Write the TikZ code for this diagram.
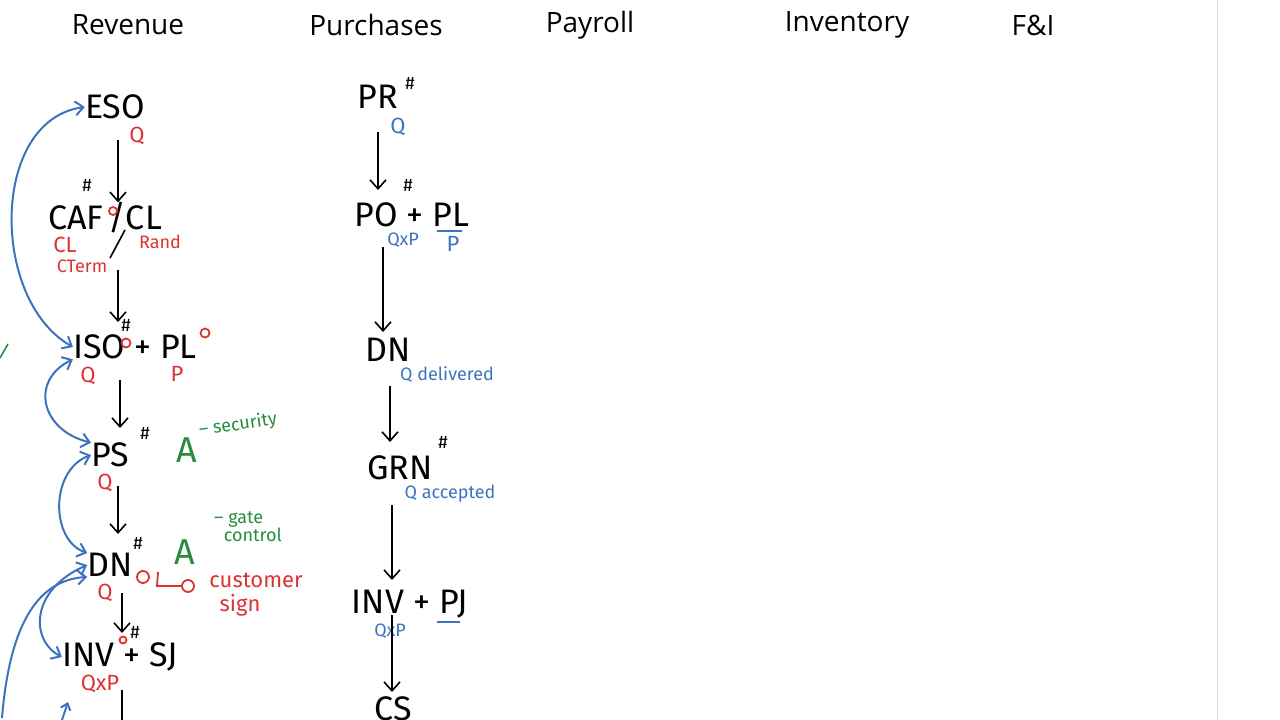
\documentclass[tikz,border=0pt]{standalone}
\usepackage{fontspec}
\setmainfont{Open Sans}
\newfontfamily\hand{Fira Sans}
\usetikzlibrary{arrows.meta}
\definecolor{hred}{RGB}{220,50,50}
\definecolor{hblue}{RGB}{60,115,190}
\definecolor{hgreen}{RGB}{40,140,60}
\begin{document}
\begin{tikzpicture}[x=1pt,y=-1pt,
 hd/.style={font=\fontsize{28}{28}\selectfont,text=black},
 bk/.style={font=\hand\fontsize{34}{34}\selectfont,inner sep=0},
 sm/.style={font=\hand\fontsize{22}{22}\selectfont,inner sep=0},
 tn/.style={font=\hand\fontsize{18}{18}\selectfont,inner sep=0},
 rd/.style={text=hred}, bl/.style={text=hblue}, gr/.style={text=hgreen},
 fl/.style={-{Straight Barb[length=9pt,width=16pt]},line width=1.6pt},
 cv/.style={{Straight Barb[length=8pt,width=14pt]}-{Straight Barb[length=8pt,width=14pt]},hblue,line width=2pt},
 ring/.style={circle,draw=hred,line width=1.8pt,minimum size=9pt,inner sep=0}]
\useasboundingbox (0,0) rectangle (1280,720);
\draw[black!15,line width=1pt] (1217,0) -- (1217,720);
% headers
\node[hd] (h1) at (128,25) {Revenue};
\node[hd] (h2) at (376,25) {Purchases};
\node[hd] (h3) at (590,25) {Payroll};
\node[hd] (h4) at (847,25) {Inventory};
\node[hd] (h5) at (1033,25) {F\&I};
% Revenue column
\node[bk] (eso) at (115,107) {ESO};
\node[sm,rd] (esoq) at (137,136) {Q};
\node[bk] (caf) at (105,218) {CAF\,/CL};
\node[tn] (cafh) at (87,185) {\#};
\node[ring,minimum size=8pt] (cafo) at (113,211) {};
\node[sm,rd] (cafcl) at (65,245) {CL};
\node[tn,rd] (cafct) at (82,266) {CTerm};
\node[tn,rd] (cafr) at (160,242) {Rand};
\coordinate (sl1) at (125,230); \coordinate (sl2) at (110,258);
\draw[line width=1.6pt] (sl1) -- (sl2);
\node[bk] (iso) at (135,347) {ISO + PL};
\node[tn] (isoh) at (126,325) {\#};
\node[ring] (isoo) at (126,343) {};
\node[ring] (plo) at (205,333) {};
\node[sm,rd] (isoq) at (88,376) {Q};
\node[sm,rd] (isop) at (177,374) {P};
\node[bk] (ps) at (110,455) {PS};
\node[tn] (psh) at (145,433) {\#};
\node[sm,rd] (psq) at (105,483) {Q};
\node[font=\hand\fontsize{36}{36}\selectfont,gr] (a1) at (187,450) {A};
\node[tn,gr,rotate=8] (a1t) at (238,425) {– security};
\node[bk] (dn) at (110,565) {DN};
\node[tn] (dnh) at (138,543) {\#};
\node[sm,rd] (dnq) at (105,593) {Q};
\node[ring,minimum size=12pt] (dno1) at (143,577) {};
\node[ring,minimum size=12pt] (dno2) at (188,586) {};
\draw[hred,line width=1.8pt] (158,572) -- (157,586) -- (dno2.west);
\node[sm,rd] (cust) at (256,580) {customer};
\node[sm,rd] (sign) at (240,605) {sign};
\node[font=\hand\fontsize{36}{36}\selectfont,gr] (a2) at (185,552) {A};
\node[tn,gr,align=left] (a2t) at (248,527) {– gate\\\ \ control};
\node[bk] (inv) at (120,657) {INV + SJ};
\node[tn] (invh) at (135,632) {\#};
\node[ring,minimum size=7pt] (invo) at (123,640) {};
\node[sm,rd] (invq) at (100,684) {QxP};
\coordinate (rend) at (122,722);
\draw[fl] (118,140) -- (caf.north-|118,0);
\draw[fl] (118,270) -- (118,322);
\draw[fl] (120,380) -- (120,428);
\draw[fl] (118,486) -- (118,534);
\draw[fl] (122,593) -- (122,633);
\draw[line width=1.6pt] (122,690) -- (rend);
% blue connectors
\draw[cv] (iso.west) .. controls (-10,300) and (-10,120) .. (eso.west);
\draw[cv] (ps.north west) .. controls (40,430) and (30,380) .. (iso.south west);
\draw[cv] (dn.north west) .. controls (50,540) and (50,470) .. (ps.west);
\draw[cv] (inv.west) .. controls (30,640) and (30,590) .. (dn.west);
\coordinate (bl1) at (2,718);
\draw[hblue,line width=2pt,-{Straight Barb[length=8pt,width=14pt]}] (bl1) .. controls (10,620) and (40,580) .. (dn.south west);
\coordinate (bl2) at (62,720);
\draw[hblue,line width=2pt,-{Straight Barb[length=6pt,width=10pt]}] (bl2) -- (68,702);
\coordinate (gt1) at (0,358); \coordinate (gt2) at (8,344);
\draw[hgreen,line width=1.6pt] (gt1) -- (gt2);
% Purchases column
\node[bk] (pr) at (378,97) {PR};
\node[tn] (prh) at (410,83) {\#};
\node[sm,bl] (prq) at (398,127) {Q};
\node[bk] (po) at (412,215) {PO + PL};
\node[tn] (poh) at (408,185) {\#};
\node[tn,bl] (poq) at (403,240) {QxP};
\node[sm,bl] (pop) at (453,244) {P};
\draw[hblue,line width=1.5pt] (437,231) -- (462,231);
\node[bk] (dnp) at (388,350) {DN};
\node[tn,bl] (dnq2) at (447,374) {Q delivered};
\node[bk] (grn) at (400,468) {GRN};
\node[tn] (grnh) at (443,442) {\#};
\node[tn,bl] (grnq) at (450,494) {Q accepted};
\node[bk] (invp) at (410,604) {INV + PJ};
\draw[hblue,line width=1.5pt] (437,622) -- (460,622);
\node[tn,bl] (invpq) at (390,631) {QxP};
\node[bk,anchor=north] (cs) at (393,696) {CS};
\draw[fl] (378,132) -- (378,190);
\draw[fl] (383,247) -- (383,332);
\draw[fl] (390,386) -- (390,442);
\draw[fl] (392,505) -- (392,580);
\draw[fl] (392,615) -- (392,692);
\end{tikzpicture}
\end{document}
